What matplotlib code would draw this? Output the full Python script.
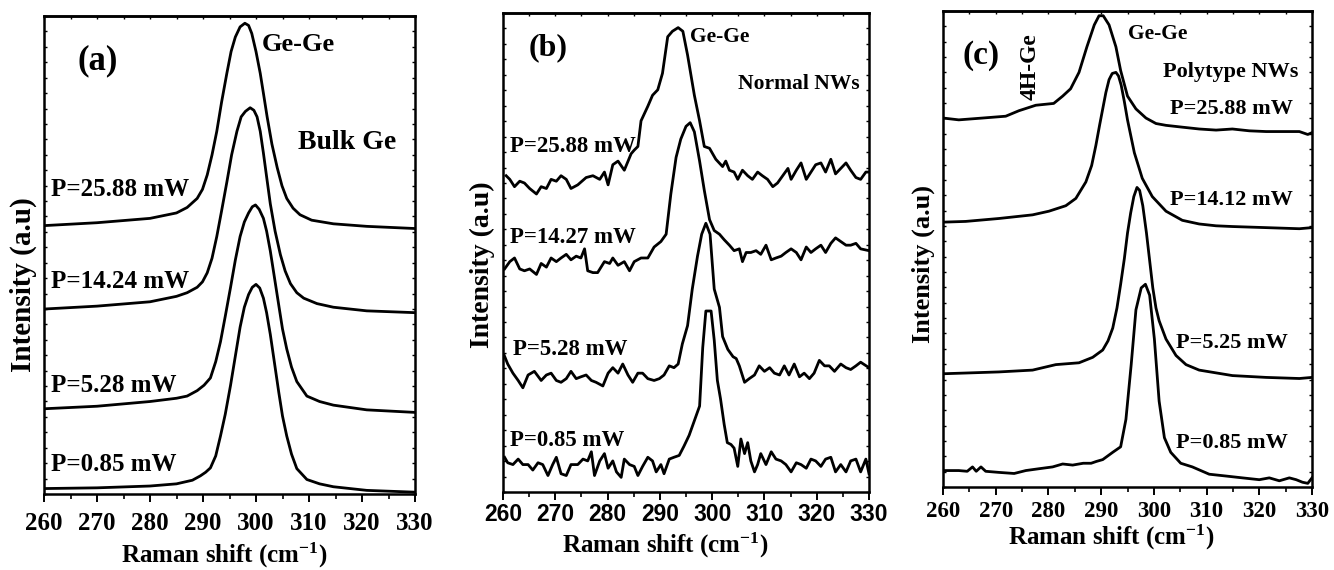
import matplotlib
matplotlib.use("Agg")
import matplotlib.pyplot as plt
from matplotlib.ticker import MultipleLocator

plt.rcParams.update({
    "font.family": "Liberation Serif",
    "font.weight": "bold",
    "mathtext.fontset": "custom",
    "mathtext.rm": "Liberation Serif:bold",
    "mathtext.it": "Liberation Serif:bold",
    "mathtext.bf": "Liberation Serif:bold",
})

# ---------------------------------------------------------------------------
# Data (intensity in arbitrary units)
# ---------------------------------------------------------------------------
# (a) bulk Ge
a_x_085 = [260, 270, 280, 285, 288, 289.5, 290.5, 291.4, 292.4, 293.3, 294.2, 295.2, 296.1, 297, 297.8,
           298.6, 299.3, 300, 300.7, 301.4, 302, 302.7, 303.5, 304.3, 305, 305.8, 306.7, 307.7, 309.6,
           312, 314.6, 320.9, 330]
a_y_085 = [15, 17, 22, 28, 38, 50, 60, 72, 105, 160, 220, 300, 380, 460, 515, 550, 570, 578, 568, 540,
           500, 440, 360, 280, 215, 160, 110, 70, 40, 28, 20, 10, 5]
a_x_528 = [260, 270, 280, 285, 287, 288.9, 290.2, 291.4, 292.4, 293.3, 294.2, 295.2, 296.1, 297, 297.8,
           298.6, 299.3, 299.9, 300.6, 301.4, 302, 302.7, 303.5, 304.3, 305, 305.8, 306.7, 307.7, 309.6,
           312, 314.6, 320.9, 330]
a_y_528 = [235, 242, 255, 264, 270, 285, 300, 320, 365, 420, 490, 570, 645, 710, 750, 775, 792, 797, 785,
           760, 725, 670, 595, 520, 455, 400, 350, 310, 270, 255, 245, 232, 225]
a_x_1424 = [260, 270, 280, 285, 287, 288.9, 289.9, 290.8, 291.7, 292.6, 293.5, 294.5, 295.4, 296.4, 297.2,
            298, 298.9, 299.6, 300.2, 300.8, 301.4, 302, 302.7, 303.6, 304.6, 305.5, 306.5, 307.7, 309,
            311.5, 314.6, 320.9, 330]
a_y_1424 = [510, 518, 530, 545, 555, 570, 585, 610, 650, 710, 780, 860, 935, 1000, 1040, 1055, 1065, 1058,
            1040, 1000, 940, 875, 800, 725, 660, 615, 580, 555, 540, 525, 515, 505, 500]
a_x_2588 = [260, 270, 280, 285, 287, 288.9, 289.9, 290.8, 291.7, 292.6, 293.5, 294.5, 295.3, 296.1, 297,
            297.9, 298.6, 299.2, 300, 300.8, 301.4, 302.1, 303, 304, 304.9, 305.8, 307, 308.3, 310.5,
            314.6, 320.9, 330]
a_y_2588 = [740, 748, 760, 775, 790, 815, 840, 880, 935, 1000, 1080, 1160, 1220, 1260, 1288, 1298, 1292,
            1270, 1220, 1160, 1105, 1040, 965, 900, 850, 815, 788, 770, 755, 745, 738, 732]

# (b) normal NWs
b_x_085 = [260.3, 260.9, 261.9, 262.9, 263.8, 264.8, 265.7, 266.7, 267.6, 268.6, 269.5, 270.2, 271.1, 272.1,
           273, 274.3, 275.3, 276.2, 276.9, 277.5, 278.5, 279.4, 280.1, 281, 281.7, 282.6, 283.2, 284.2,
           285.1, 285.8, 286.7, 287.7, 288.6, 289.3, 290.2, 290.8, 291.8, 292.7, 293.7, 294.6, 295.6,
           296.6, 297.6, 298.2, 298.8, 299.8, 300.4, 301, 301.6, 302.3, 302.9, 303.6, 304.2, 304.9, 305.5,
           306.2, 306.8, 307.4, 308.1, 308.7, 309.3, 310.3, 311.3, 312.2, 313.2, 314.1, 315.1, 316.1, 317,
           318, 318.9, 319.8, 320.8, 321.7, 322.7, 323.6, 324.6, 325.6, 326.5, 327.5, 328.4, 329.4, 330]
b_y_085 = [95, 80, 75, 90, 75, 75, 60, 80, 75, 45, 75, 95, 50, 45, 75, 75, 90, 85, 110, 45, 85, 105, 65, 85,
           55, 40, 90, 75, 70, 45, 70, 95, 85, 55, 75, 50, 90, 95, 100, 125, 155, 195, 235, 395, 495, 495,
           415, 305, 255, 185, 135, 130, 120, 70, 145, 105, 135, 85, 55, 75, 105, 75, 110, 90, 85, 75, 55,
           80, 75, 65, 90, 85, 70, 90, 95, 55, 75, 55, 85, 90, 55, 90, 50]
b_x_528 = [260.2, 260.9, 261.9, 262.9, 263.8, 264.8, 266, 267.3, 268.3, 269.2, 270.2, 271.1, 272.1, 273, 274,
           274.9, 275.9, 276.9, 277.8, 279.1, 280.1, 281, 282, 282.9, 283.9, 284.8, 285.8, 286.7, 287.7,
           288.9, 289.9, 290.8, 291.8, 292.7, 293.5, 294.3, 295.3, 296.2, 297.2, 298, 298.8, 299.6, 300.4,
           301.4, 302, 303, 304, 304.6, 305.2, 306.2, 307.1, 308.1, 309, 310, 311, 311.9, 312.9, 313.8,
           314.7, 315.7, 316.7, 317.6, 318.6, 319.5, 320.5, 321.5, 322.4, 323.4, 324.6, 325.6, 326.5,
           327.5, 328.4, 330]
b_y_528 = [375, 350, 325, 305, 285, 320, 330, 305, 320, 325, 305, 300, 310, 330, 310, 315, 320, 305, 300,
           290, 325, 340, 325, 350, 320, 300, 325, 325, 310, 305, 310, 320, 345, 340, 350, 405, 455, 555,
           645, 705, 735, 705, 555, 505, 425, 390, 370, 365, 345, 300, 310, 320, 345, 330, 340, 325, 320,
           345, 320, 350, 315, 325, 310, 325, 360, 345, 345, 330, 350, 340, 335, 345, 355, 340]
b_x_1427 = [260.3, 261.3, 262.2, 263.2, 264.1, 265.1, 266.4, 267.3, 268.3, 269.2, 270.2, 271.1, 272.1, 273,
            274, 274.9, 275.6, 276.2, 277.2, 278.1, 279.4, 280.4, 281, 282, 283.2, 284.2, 285.1, 286.4,
            287.7, 288.9, 290.2, 291.2, 292.1, 293.1, 294, 295, 295.8, 296.6, 297.6, 298.5, 299.5, 300.4,
            301.4, 302.3, 303.3, 304.2, 305.2, 305.8, 306.5, 307.4, 308.4, 309.3, 310.3, 311.3, 312.2,
            313.2, 314.1, 315.1, 316.1, 317, 318, 318.9, 319.8, 320.8, 321.7, 322.7, 323.6, 324.6, 325.6,
            326.5, 327.5, 328.4, 330]
b_y_1427 = [610, 630, 640, 610, 605, 610, 595, 625, 615, 640, 630, 640, 650, 635, 645, 640, 665, 605, 600,
            600, 630, 625, 640, 620, 630, 605, 630, 640, 640, 670, 685, 705, 815, 915, 965, 1000, 1010, 985,
            905, 825, 745, 715, 705, 690, 675, 660, 665, 630, 655, 655, 660, 650, 675, 635, 640, 645, 655,
            665, 655, 635, 670, 655, 665, 675, 655, 680, 695, 685, 675, 675, 680, 665, 660]
b_x_2588 = [260.6, 261.3, 262.2, 263.2, 264.1, 265.1, 266.4, 267.3, 268.3, 269.2, 270.2, 271.1, 272.1, 273,
            274.3, 275.9, 277.2, 278.5, 279.4, 280.1, 281, 282, 283.2, 284.5, 285.1, 285.8, 286.4, 287.7,
            288.6, 289.6, 290.5, 291.5, 292.4, 293.5, 294.4, 295.3, 296.6, 297.6, 298.5, 299.5, 300.7, 302,
            302.6, 303.3, 304.2, 304.9, 305.8, 306.8, 307.7, 308.7, 309.6, 310.6, 311.6, 312.5, 313.5,
            314.5, 315.1, 316.1, 317, 318, 318.9, 319.8, 320.8, 321.7, 322.7, 323.6, 324.6, 325.6, 326.5,
            327.5, 328.4, 329.4, 330]
b_y_2588 = [865, 855, 835, 850, 845, 830, 815, 835, 830, 855, 850, 865, 855, 830, 840, 860, 865, 855, 875,
            840, 895, 905, 880, 925, 935, 945, 1015, 1055, 1085, 1100, 1145, 1245, 1260, 1270, 1260, 1195,
            1085, 1015, 945, 940, 910, 890, 905, 880, 875, 855, 880, 865, 855, 875, 865, 855, 835, 845, 865,
            885, 855, 880, 900, 855, 875, 895, 900, 875, 910, 870, 885, 900, 880, 860, 855, 875, 875]

# (c) polytype NWs
c_x_085 = [260, 263, 264.6, 265.6, 266.3, 267.2, 268.1, 270.6, 273.5, 275.7, 278.2, 280.8, 282.7, 284.6,
           286.6, 288.1, 289.1, 290.3, 292.2, 293.7, 294.7, 295.7, 296.6, 297.6, 298.4, 299.2, 300.1, 301,
           302, 303.2, 305.1, 307.3, 310.5, 313.7, 316.8, 320, 321.9, 323.8, 325.7, 327, 328.2, 329.2, 330]
c_y_085 = [45, 45, 43, 55, 43, 55, 43, 40, 37, 45, 50, 55, 63, 60, 65, 65, 70, 75, 95, 110, 185, 335, 485,
           545, 555, 525, 405, 235, 135, 95, 65, 55, 35, 30, 25, 20, 25, 17, 25, 20, 13, 10, 25]
c_x_525 = [260, 264.3, 270.6, 277, 281.4, 285.8, 288.4, 290.3, 291.3, 292.2, 293, 293.7, 294.4, 295, 295.6,
           296.2, 296.8, 297.3, 297.9, 298.6, 299.2, 299.8, 300.4, 301, 302.3, 304.2, 306.1, 308.6, 314.9,
           321.3, 327.6, 330]
c_y_525 = [310, 312, 315, 320, 335, 340, 355, 375, 400, 435, 490, 555, 625, 695, 750, 795, 820, 812, 770,
           695, 620, 545, 490, 455, 405, 360, 335, 320, 305, 300, 297, 300]
c_x_1412 = [260, 264.3, 270.6, 277, 280.1, 283.3, 285.2, 287.1, 288.2, 289, 289.7, 290.3, 290.9, 291.5,
            292.1, 292.8, 293.3, 293.8, 294.4, 295, 296.3, 297.8, 299.7, 302.3, 305.4, 308.6, 311.8, 314.9,
            321.3, 327.6, 330]
c_y_1412 = [725, 727, 735, 745, 755, 770, 790, 835, 880, 935, 990, 1035, 1080, 1115, 1132, 1135, 1125, 1100,
            1055, 1005, 915, 845, 795, 755, 730, 720, 715, 713, 710, 707, 710]
c_x_2588 = [260, 263, 267.5, 271.9, 274.4, 277.6, 281, 282.7, 284.2, 285.8, 287.3, 288.7, 289.6, 290.4,
            291.5, 292.8, 293.7, 295, 296.6, 298.5, 300.4, 302.3, 305.4, 308.6, 311.8, 314.9, 318.1, 321.3,
            324.4, 327.6, 329.2, 330]
c_y_2588 = [1010, 1005, 1010, 1015, 1030, 1045, 1050, 1070, 1090, 1135, 1205, 1265, 1290, 1290, 1265, 1205,
            1140, 1070, 1035, 1010, 995, 990, 985, 980, 977, 980, 975, 973, 973, 973, 965, 970]

XLABEL = r"Raman shift (cm$^{-1}$)"
YLABEL = "Intensity (a.u)"

# ---------------------------------------------------------------------------
W, H = 1334, 570
fig = plt.figure(figsize=(W / 100, H / 100), dpi=100)


def px_axes(l, r, t, b):
    return fig.add_axes([l / W, (H - b) / H, (r - l) / W, (b - t) / H])


def style(ax, ytop, tick_family, tick_size, pad):
    ax.set_xlim(260, 330)
    ax.set_ylim(0, ytop)
    ax.xaxis.set_major_locator(MultipleLocator(10))
    ax.xaxis.set_minor_locator(MultipleLocator(5))
    ax.tick_params(axis="x", which="major", direction="out", length=6, width=1.4, pad=pad)
    ax.tick_params(axis="x", which="minor", direction="out", length=3.5, width=1.2)
    for lab in ax.get_xticklabels():
        lab.set_family(tick_family)
        lab.set_fontsize(tick_size)
        lab.set_fontweight("bold")
    ax.yaxis.set_major_locator(MultipleLocator(ytop / 31))
    ax.tick_params(axis="y", which="both", direction="in", left=True, right=True,
                   labelleft=False, length=2.5, width=1.0)
    top = ax.secondary_xaxis("top")
    top.xaxis.set_major_locator(MultipleLocator(5))
    top.tick_params(direction="in", length=2.5, width=1.0, labeltop=False)
    top.spines["top"].set_linewidth(1.8)
    for s in ax.spines.values():
        s.set_linewidth(1.8)


LW = 2.0

# --- (a) -------------------------------------------------------------------
ax = px_axes(44, 415, 16, 494)
for x, y in [(a_x_085, a_y_085), (a_x_528, a_y_528), (a_x_1424, a_y_1424), (a_x_2588, a_y_2588)]:
    ax.plot(x, y, color="black", lw=LW)
style(ax, 1318, "Liberation Serif", 18, 7)
ax.text(270.2, 1194, "(a)", fontsize=25, ha="center", va="center")
ax.text(307.9, 1240, "Ge-Ge", fontsize=19, ha="center", va="center")
ax.text(317.1, 970, "Bulk Ge", fontsize=20, ha="center", va="center")
for lab, yy in [("P=25.88 mW", 840), ("P=14.24 mW", 585), ("P=5.28 mW", 300), ("P=0.85 mW", 80)]:
    ax.text(261.4, yy, lab, fontsize=18, ha="left", va="center")
ax.text(-0.057, 0.437, YLABEL, fontsize=21, rotation=90, ha="center", va="center", transform=ax.transAxes)
ax.text(0.486, -0.144, XLABEL, fontsize=18, ha="center", va="baseline", transform=ax.transAxes)

# --- (b) -------------------------------------------------------------------
ax = px_axes(503, 869, 13, 492)
for x, y in [(b_x_085, b_y_085), (b_x_528, b_y_528), (b_x_1427, b_y_1427), (b_x_2588, b_y_2588)]:
    ax.plot(x, y, color="black", lw=LW)
style(ax, 1310, "Liberation Sans", 16.5, 2)
ax.text(268.7, 1215, "(b)", fontsize=23, ha="center", va="center")
ax.text(301.4, 1245, "Ge-Ge", fontsize=15.5, ha="center", va="center")
ax.text(316.6, 1115, "Normal NWs", fontsize=15.5, ha="center", va="center")
for lab, x0, yy in [("P=25.88 mW", 261.3, 945), ("P=14.27 mW", 261.3, 695),
                    ("P=5.28 mW", 261.9, 390), ("P=0.85 mW", 261.3, 140)]:
    ax.text(x0, yy, lab, fontsize=16.5, ha="left", va="center")
ax.text(-0.057, 0.474, YLABEL, fontsize=20, rotation=90, ha="center", va="center", transform=ax.transAxes)
ax.text(0.443, -0.127, XLABEL, fontsize=18, ha="center", va="baseline", transform=ax.transAxes)

# --- (c) -------------------------------------------------------------------
ax = px_axes(943, 1312, 11, 487)
for x, y in [(c_x_085, c_y_085), (c_x_525, c_y_525), (c_x_1412, c_y_1412), (c_x_2588, c_y_2588)]:
    ax.plot(x, y, color="black", lw=LW)
style(ax, 1303, "Liberation Serif", 16.5, 4)
ax.text(267.2, 1180, "(c)", fontsize=24, ha="center", va="center")
ax.text(276.6, 1150, "4H-Ge", fontsize=17, rotation=90, ha="center", va="center")
ax.text(300.7, 1240, "Ge-Ge", fontsize=15.5, ha="center", va="center")
ax.text(314.6, 1135, "Polytype NWs", fontsize=16, ha="center", va="center")
for lab, yy in [("P=25.88 mW", 1035), ("P=14.12 mW", 785), ("P=5.25 mW", 395), ("P=0.85 mW", 120)]:
    ax.text(314.8, yy, lab, fontsize=16, ha="center", va="center")
ax.text(-0.054, 0.468, YLABEL, fontsize=19, rotation=90, ha="center", va="center", transform=ax.transAxes)
ax.text(0.457, -0.122, XLABEL, fontsize=18, ha="center", va="baseline", transform=ax.transAxes)

fig.savefig("out.png", dpi=100)
